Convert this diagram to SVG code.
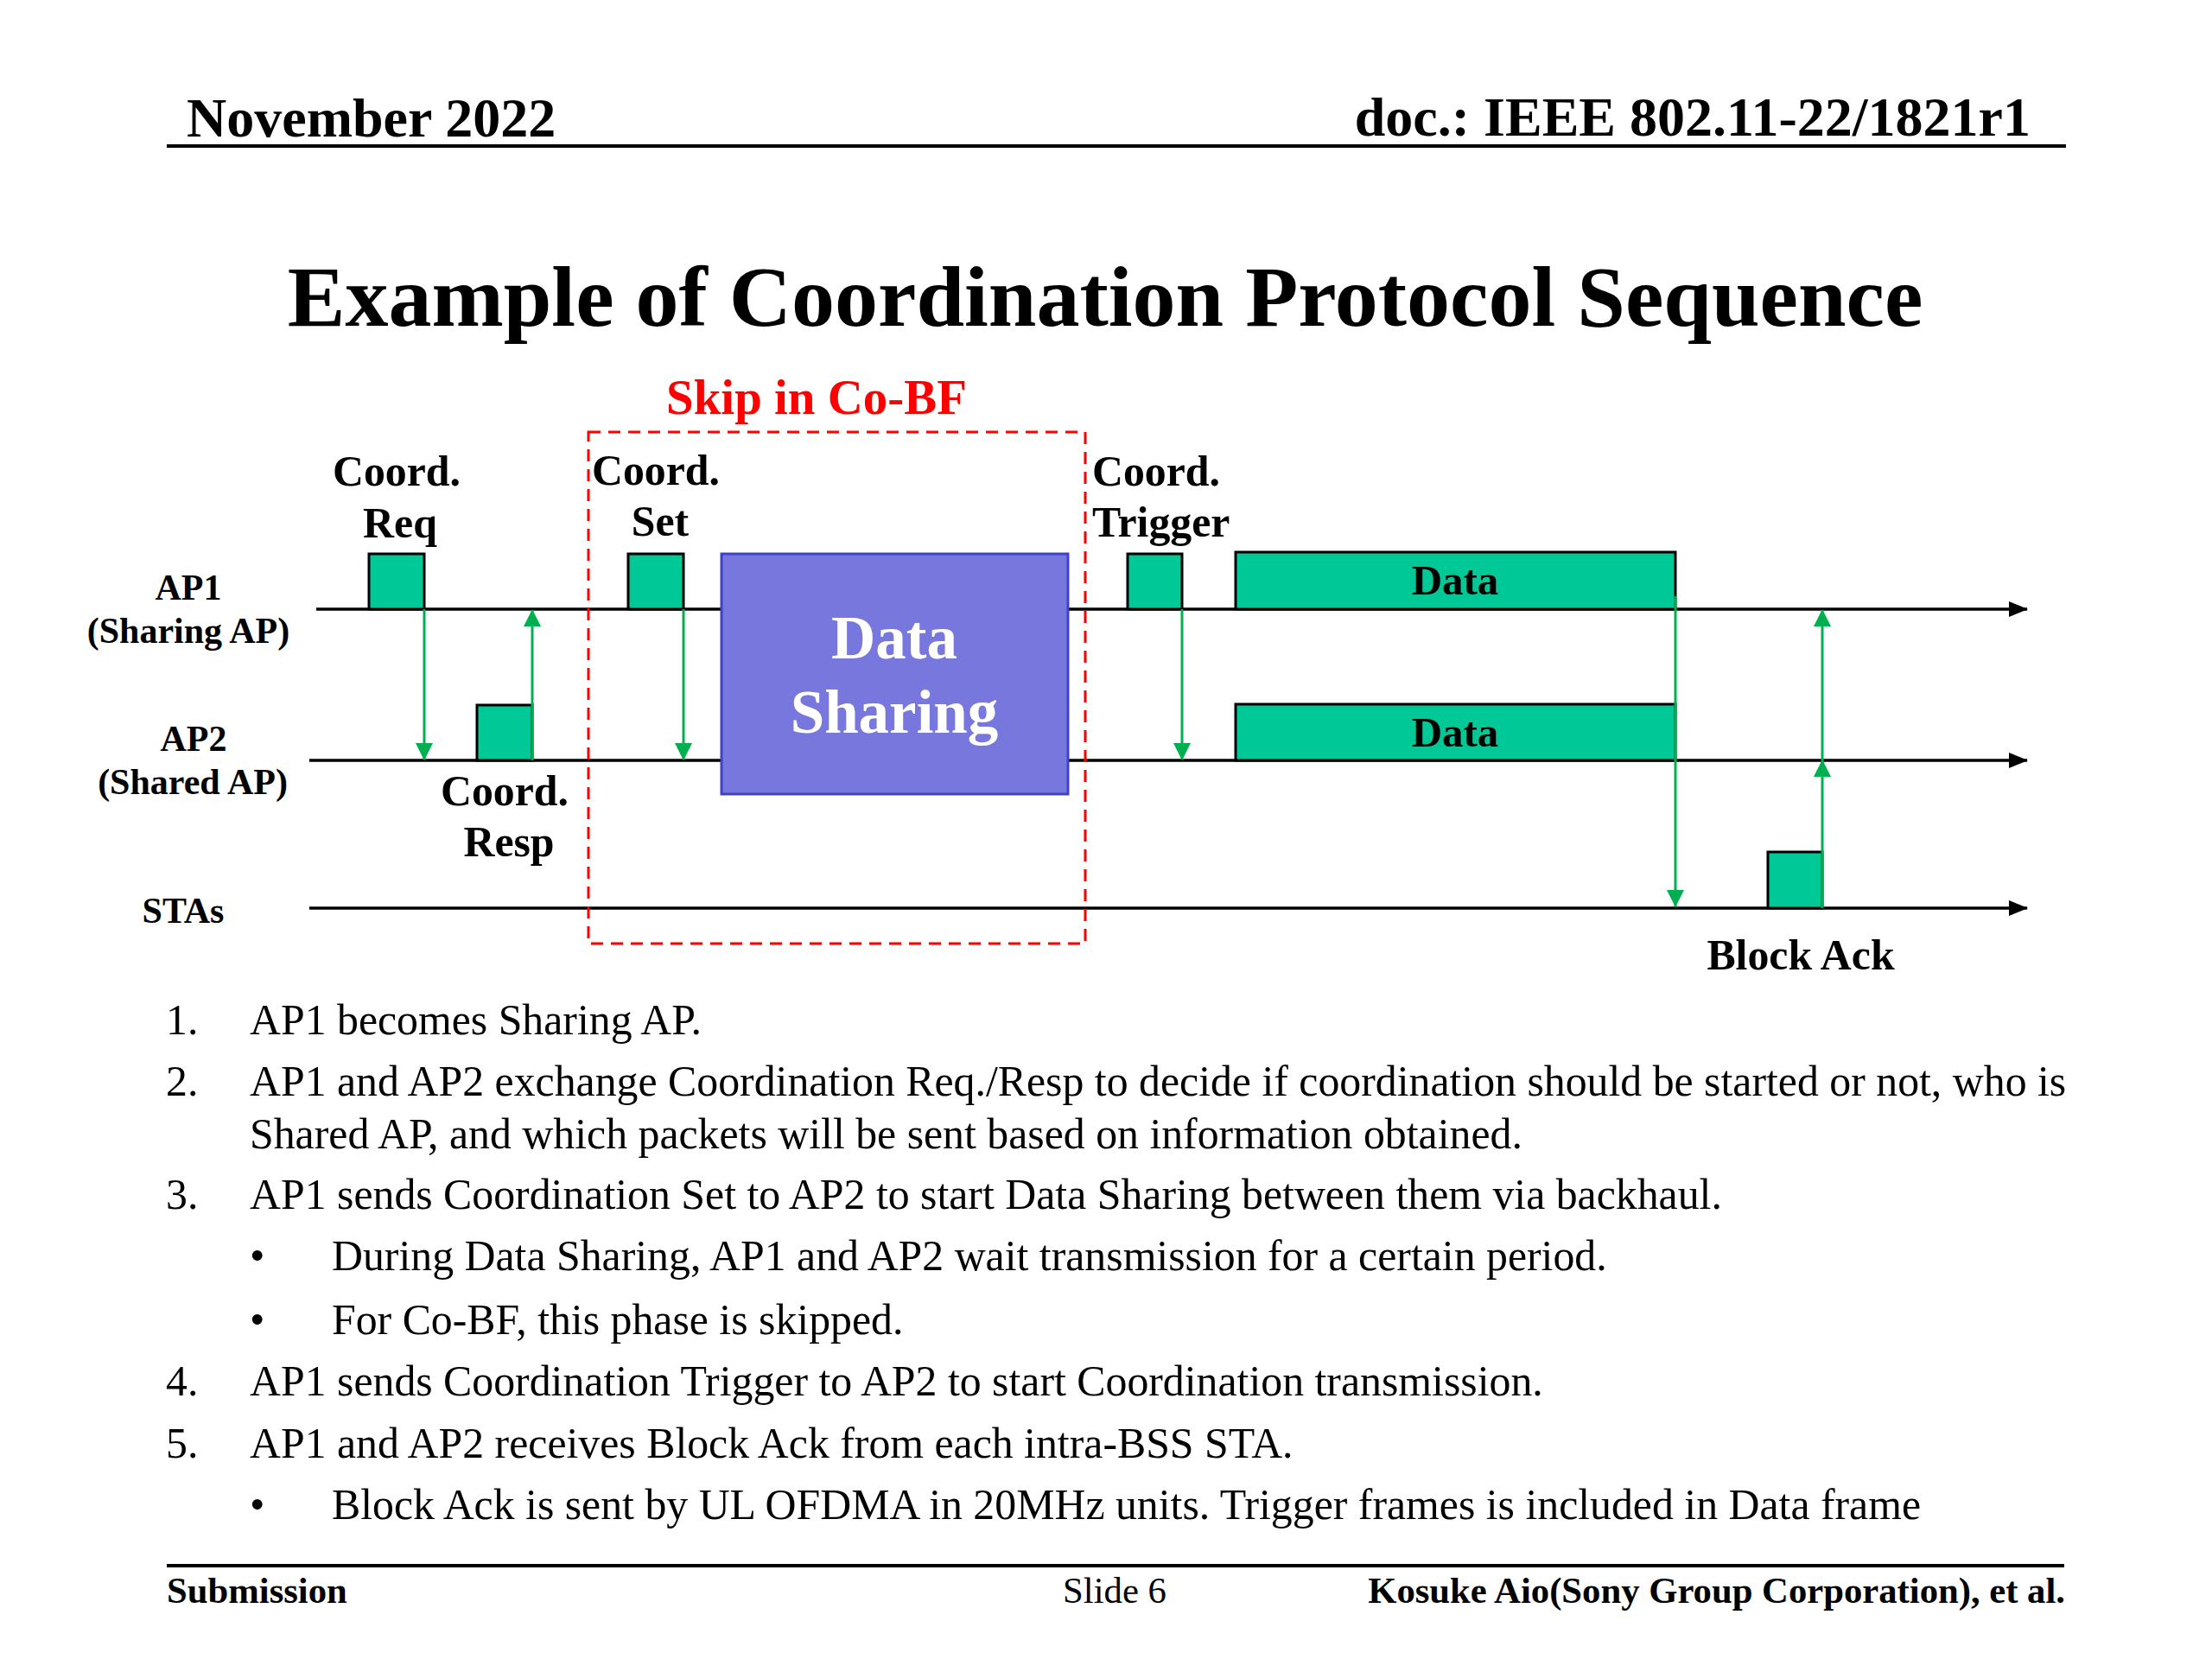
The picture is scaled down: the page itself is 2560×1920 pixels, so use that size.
<svg xmlns="http://www.w3.org/2000/svg" width="2560" height="1920" viewBox="0 0 2560 1920">
<defs>
<style>
text { font-family: "Liberation Serif", "Times New Roman", serif; fill: #000; }
.b { font-weight: bold; }
.hdr { font-size: 64px; font-weight: bold; }
.title { font-size: 100px; font-weight: bold; text-anchor: middle; }
.lbl { font-size: 49.8px; font-weight: bold; }
.side { font-size: 42px; font-weight: bold; text-anchor: middle; }
.body { font-size: 49.8px; }
.foot { font-size: 42.7px; }
.timeline { stroke: #000; stroke-width: 3.5; fill: none; }
.frame { fill: #00C896; stroke: #000; stroke-width: 3; }
.sig { stroke: #00B050; stroke-width: 3; fill: none; }
</style>
<marker id="blk" viewBox="0 0 22 18" refX="21" refY="9" markerWidth="22" markerHeight="18" markerUnits="userSpaceOnUse" orient="auto">
<path d="M0,0 L22,9 L0,18 Z" fill="#000"/>
</marker>
<marker id="grn" viewBox="0 0 20 20" refX="19" refY="10" markerWidth="20" markerHeight="20" markerUnits="userSpaceOnUse" orient="auto">
<path d="M0,0 L20,10 L0,20 Z" fill="#00B050"/>
</marker>
</defs>
<rect width="2560" height="1920" fill="#fff"/>

<g id="header">
<text class="hdr" x="216" y="158">November 2022</text>
<text class="hdr" x="2350" y="157" text-anchor="end">doc.: IEEE 802.11-22/1821r1</text>
<line x1="193" y1="169" x2="2391" y2="169" stroke="#000" stroke-width="4"/>
</g>

<g id="title">
<text class="title" x="1279" y="377">Example of Coordination Protocol Sequence</text>
</g>

<g id="timelines">
<line class="timeline" x1="366" y1="705" x2="2346" y2="705" marker-end="url(#blk)"/>
<line class="timeline" x1="358" y1="880" x2="2346" y2="880" marker-end="url(#blk)"/>
<line class="timeline" x1="358" y1="1051" x2="2346" y2="1051" marker-end="url(#blk)"/>
</g>

<g id="lane-labels">
<text class="side" x="218" y="694">AP1</text>
<text class="side" x="218" y="744">(Sharing AP)</text>
<text class="side" x="224" y="869">AP2</text>
<text class="side" x="223" y="919">(Shared AP)</text>
<text class="side" x="212" y="1068">STAs</text>
</g>

<g id="skip-region">
<rect x="681" y="500" width="575" height="592" fill="none" stroke="#FF0000" stroke-width="3" stroke-dasharray="14 9"/>
<text class="b" x="945" y="479" font-size="56.9" fill="#FF0000" text-anchor="middle" style="fill:#FF0000">Skip in Co-BF</text>
</g>

<g id="coord-req">
<rect class="frame" x="427" y="641" width="64" height="64"/>
<text class="lbl" x="459" y="562" text-anchor="middle">Coord.</text>
<text class="lbl" x="463" y="622" text-anchor="middle">Req</text>
</g>

<g id="coord-resp">
<rect class="frame" x="552" y="816" width="64" height="64"/>
<text class="lbl" x="584" y="932" text-anchor="middle">Coord.</text>
<text class="lbl" x="589" y="991" text-anchor="middle">Resp</text>
</g>

<g id="coord-set">
<rect class="frame" x="727" y="641" width="64" height="64"/>
<text class="lbl" x="759" y="561" text-anchor="middle">Coord.</text>
<text class="lbl" x="764" y="620" text-anchor="middle">Set</text>
</g>

<g id="data-sharing">
<rect x="835" y="641" width="401" height="278" fill="#7777DD" stroke="#4040C8" stroke-width="3"/>
<text class="b" x="1035" y="762" font-size="71" text-anchor="middle" style="fill:#fff">Data</text>
<text class="b" x="1035" y="848" font-size="71" text-anchor="middle" style="fill:#fff">Sharing</text>
</g>

<g id="coord-trigger">
<rect class="frame" x="1305" y="641" width="63" height="64"/>
<text class="lbl" x="1264" y="562">Coord.</text>
<text class="lbl" x="1264" y="621">Trigger</text>
</g>

<g id="data-ap1">
<rect class="frame" x="1430" y="639" width="509" height="66"/>
<text class="b" x="1684" y="688" font-size="49" text-anchor="middle">Data</text>
</g>

<g id="data-ap2">
<rect class="frame" x="1430" y="815" width="509" height="65"/>
<text class="b" x="1684" y="864" font-size="49" text-anchor="middle">Data</text>
</g>

<g id="block-ack">
<rect class="frame" x="2046" y="986" width="63" height="65"/>
<text class="lbl" x="2084" y="1122" text-anchor="middle">Block Ack</text>
</g>

<g id="connectors">
<line class="sig" x1="491" y1="705" x2="491" y2="879" marker-end="url(#grn)"/>
<line class="sig" x1="616" y1="880" x2="616" y2="706" marker-end="url(#grn)"/>
<line class="sig" x1="791" y1="705" x2="791" y2="879" marker-end="url(#grn)"/>
<line class="sig" x1="1368" y1="705" x2="1368" y2="879" marker-end="url(#grn)"/>
<line class="sig" x1="1939" y1="690" x2="1939" y2="1049" marker-end="url(#grn)"/>
<line class="sig" x1="2109" y1="1051" x2="2109" y2="880" marker-end="url(#grn)"/>
<line class="sig" x1="2109" y1="880" x2="2109" y2="706" marker-end="url(#grn)"/>
</g>

<g id="steps">
<text class="body" x="192" y="1197">1.</text>
<text class="body" x="289" y="1197">AP1 becomes Sharing AP.</text>
<text class="body" x="192" y="1268">2.</text>
<text class="body" x="289" y="1268">AP1 and AP2 exchange Coordination Req./Resp to decide if coordination should be started or not, who is</text>
<text class="body" x="289" y="1329">Shared AP, and which packets will be sent based on information obtained.</text>
<text class="body" x="192" y="1399">3.</text>
<text class="body" x="289" y="1399">AP1 sends Coordination Set to AP2 to start Data Sharing between them via backhaul.</text>
<text class="body" x="289" y="1470">•</text>
<text class="body" x="384" y="1470">During Data Sharing, AP1 and AP2 wait transmission for a certain period.</text>
<text class="body" x="289" y="1544">•</text>
<text class="body" x="384" y="1544">For Co-BF, this phase is skipped.</text>
<text class="body" x="192" y="1615">4.</text>
<text class="body" x="289" y="1615">AP1 sends Coordination Trigger to AP2 to start Coordination transmission.</text>
<text class="body" x="192" y="1687">5.</text>
<text class="body" x="289" y="1687">AP1 and AP2 receives Block Ack from each intra-BSS STA.</text>
<text class="body" x="289" y="1758">•</text>
<text class="body" x="384" y="1758">Block Ack is sent by UL OFDMA in 20MHz units. Trigger frames is included in Data frame</text>
</g>

<g id="footer">
<line x1="193" y1="1812" x2="2389" y2="1812" stroke="#000" stroke-width="4"/>
<text class="foot b" x="193" y="1855">Submission</text>
<text class="foot" x="1290" y="1855" text-anchor="middle">Slide 6</text>
<text class="foot b" x="2390" y="1855" text-anchor="end">Kosuke Aio(Sony Group Corporation), et al.</text>
</g>
</svg>
